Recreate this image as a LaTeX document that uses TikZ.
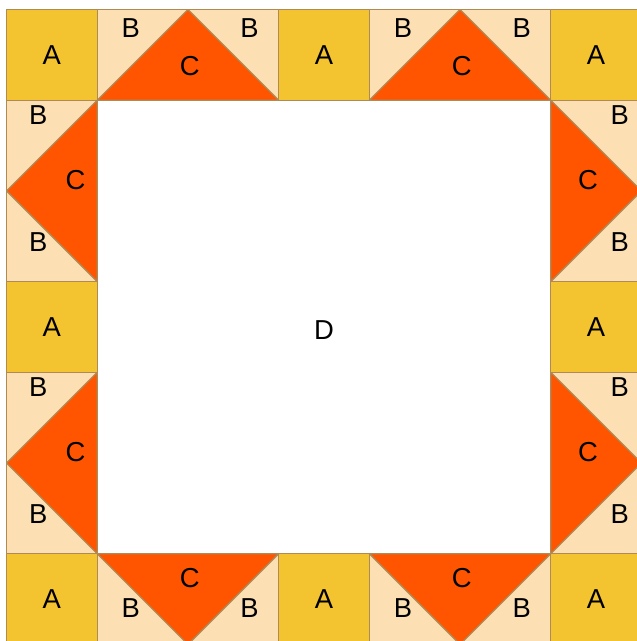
\documentclass[tikz,border=0pt]{standalone}
\usepackage{fontspec}
\setmainfont{Liberation Sans}
\usepackage{xcolor}
\usepackage{tikz}

\definecolor{patchA}{RGB}{243,196,48}
\definecolor{patchB}{RGB}{252,224,180}
\definecolor{patchC}{RGB}{255,85,0}
\definecolor{seam}{RGB}{176,138,84}

\begin{document}
\begin{tikzpicture}[x=1cm,y=1cm,
  seamline/.style={draw=seam,line width=0.4pt,line join=round},
  pa/.style={seamline,fill=patchA},
  pb/.style={seamline,fill=patchB},
  pc/.style={seamline,fill=patchC},
  lbl/.style={inner sep=0pt,font=\fontsize{8.6}{10}\selectfont}]
  \useasboundingbox (-0.072,0.038) rectangle (6.940,7.105);

  % centre field
  \draw[seamline,fill=white] (1,1) rectangle (6,6);
  \node[lbl] (d) at (3.5,3.47) {D};

  % corner and middle squares
  \foreach \x/\y [count=\i] in {0/6,3/6,6/6,0/3,6/3,0/0,3/0,6/0}{
    \draw[pa] (\x,\y) rectangle ++(1,1);
    \node[lbl] (a\i) at (\x+0.5,\y+0.5) {A};
  }

  % top and bottom geese
  \foreach \x [count=\i] in {1,4}{
    \draw[pb] (\x,6) rectangle ++(2,1);
    \draw[pc] (\x,6) -- (\x+1,7) -- (\x+2,6) -- cycle;
    \node[lbl] (tb\i l) at (\x+0.37,6.8) {B};
    \node[lbl] (tb\i r) at (\x+1.68,6.8) {B};
    \node[lbl] (tc\i) at (\x+1.02,6.38) {C};
    \draw[pb] (\x,0) rectangle ++(2,1);
    \draw[pc] (\x,1) -- (\x+1,0) -- (\x+2,1) -- cycle;
    \node[lbl] (bb\i l) at (\x+0.37,0.4) {B};
    \node[lbl] (bb\i r) at (\x+1.68,0.4) {B};
    \node[lbl] (bc\i) at (\x+1.02,0.73) {C};
  }

  % left and right geese
  \foreach \y [count=\i] in {4,1}{
    \draw[pb] (0,\y) rectangle ++(1,2);
    \draw[pc] (1,\y) -- (0,\y+1) -- (1,\y+2) -- cycle;
    \node[lbl] (lb\i t) at (0.35,\y+1.84) {B};
    \node[lbl] (lb\i b) at (0.35,\y+0.44) {B};
    \node[lbl] (lc\i) at (0.76,\y+1.12) {C};
    \draw[pb] (6,\y) rectangle ++(1,2);
    \draw[pc] (6,\y) -- (7,\y+1) -- (6,\y+2) -- cycle;
    \node[lbl] (rb\i t) at (6.76,\y+1.84) {B};
    \node[lbl] (rb\i b) at (6.76,\y+0.44) {B};
    \node[lbl] (rc\i) at (6.41,\y+1.12) {C};
  }
\end{tikzpicture}
\end{document}
